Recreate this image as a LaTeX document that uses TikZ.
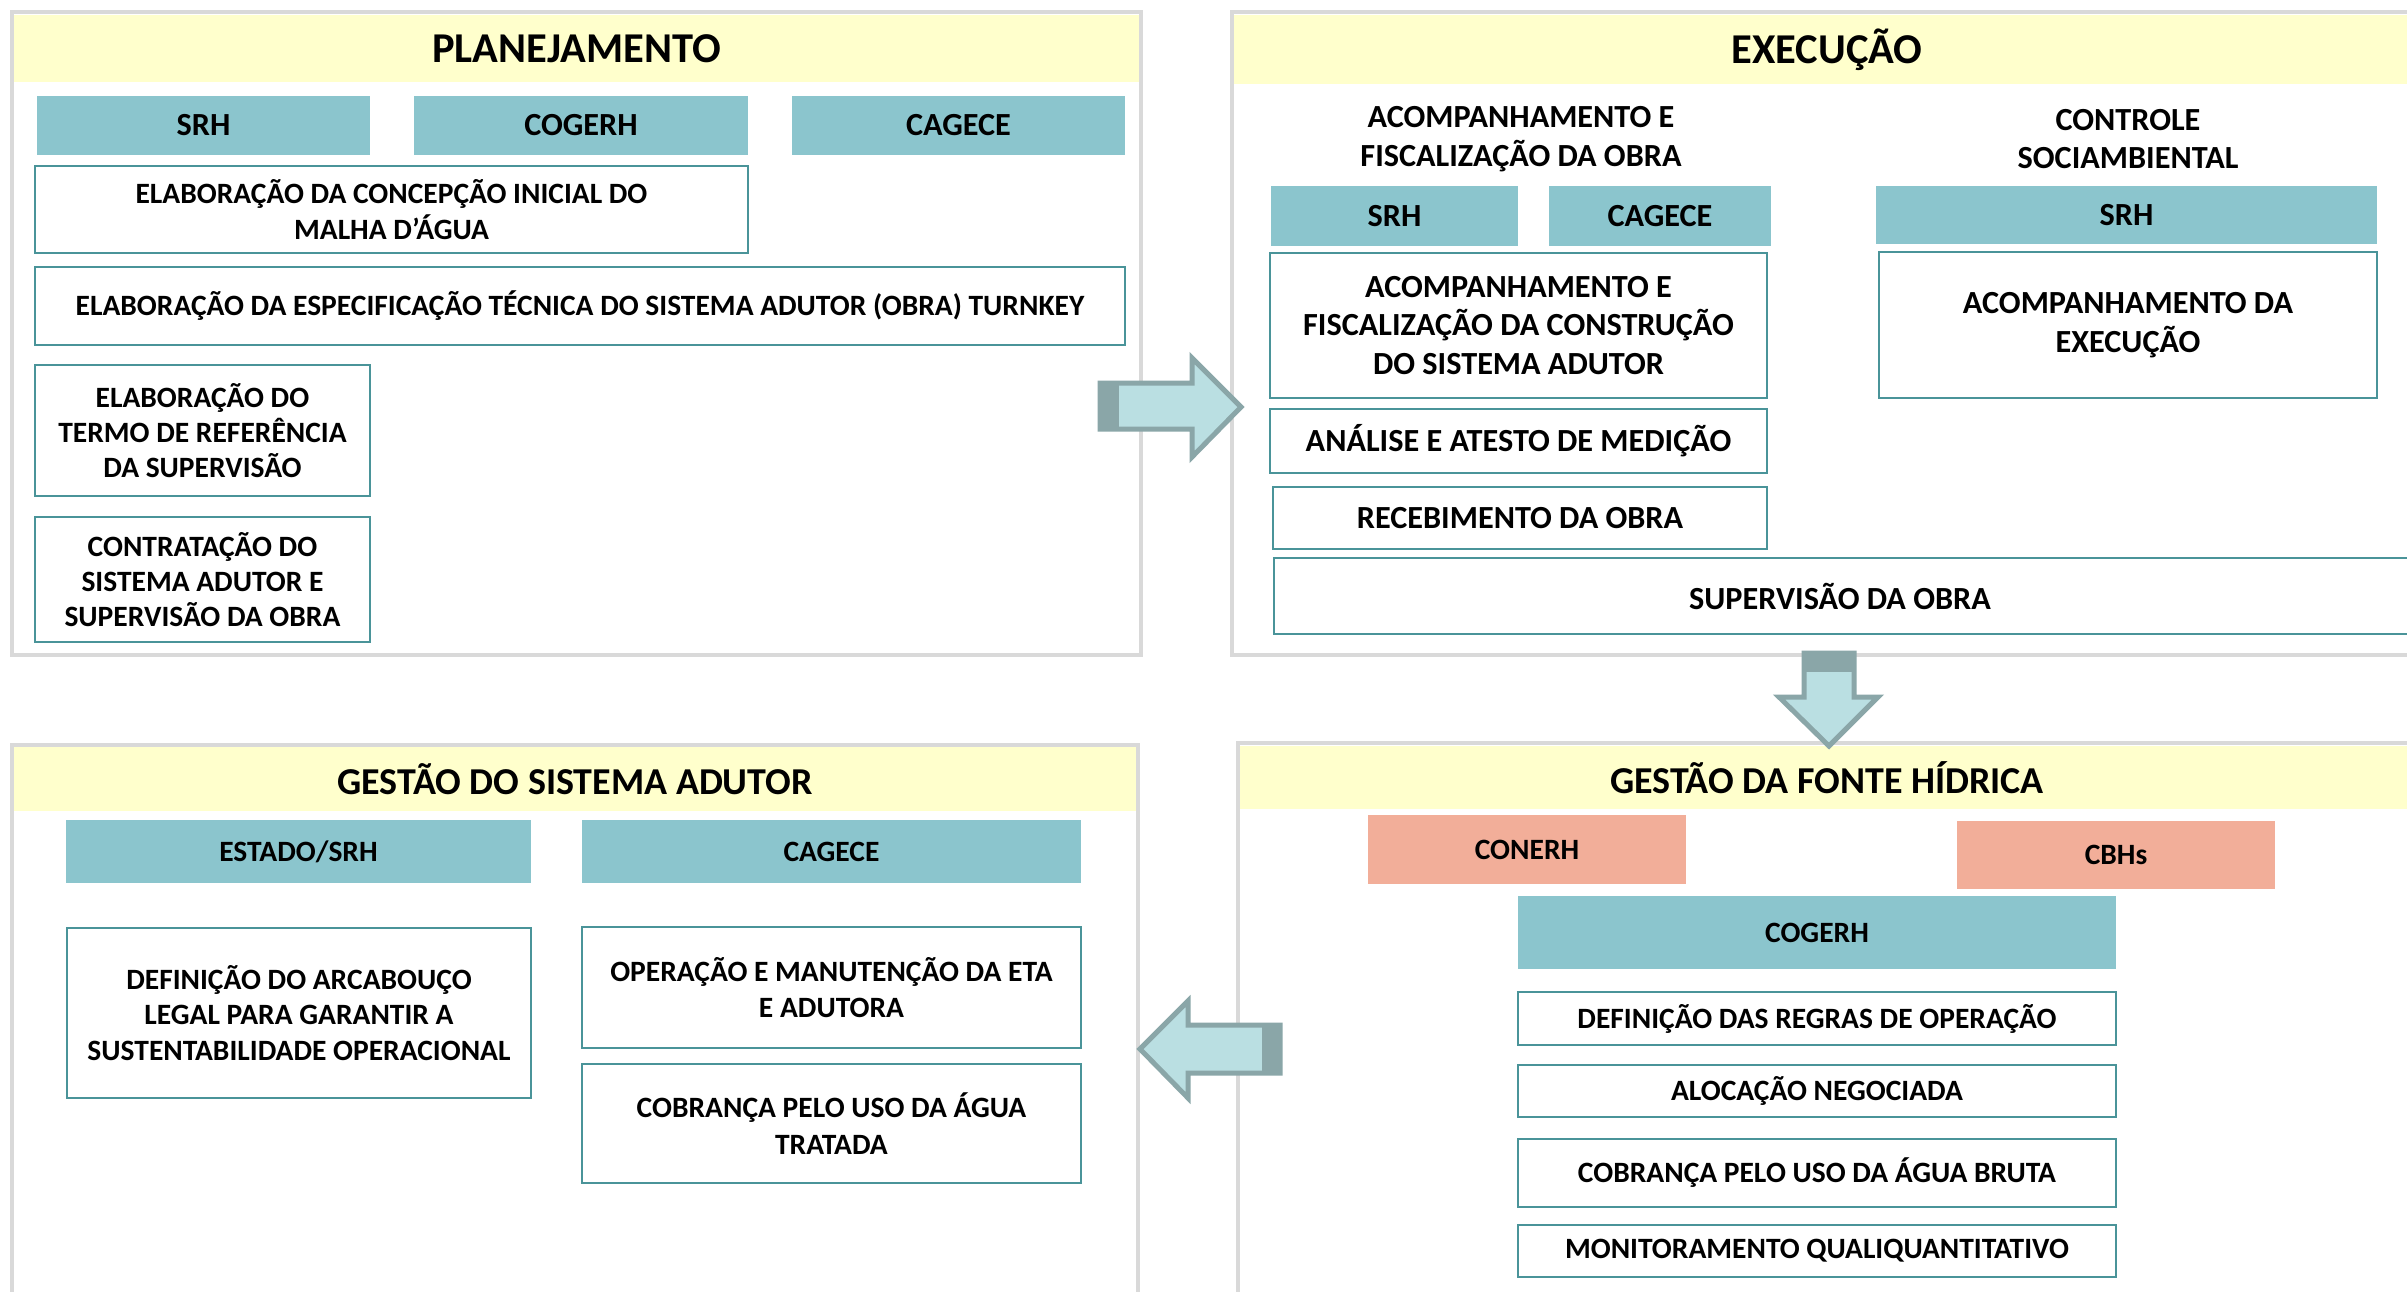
\documentclass[tikz,border=0pt]{standalone}
\usepackage{fontspec}
\setmainfont{Carlito}
\definecolor{tealfill}{HTML}{8BC5CD}
\definecolor{salmonfill}{HTML}{F2AE99}
\definecolor{hdrfill}{HTML}{FFFFCC}
\definecolor{bordteal}{HTML}{4A9499}
\definecolor{pgray}{HTML}{D9D9D9}
\definecolor{arrfill}{HTML}{BADFE2}
\definecolor{arrline}{HTML}{8AA6A8}
\begin{document}
\begin{tikzpicture}[x=0.4pt,y=-0.4pt,
 spanxy/.style n args={4}{at={({(#1+#3)/2},{(#2+#4)/2})}, minimum width={(#3-#1)*0.4pt}, minimum height={(#4-#2)*0.4pt}},
 fsmall/.style={font=\bfseries\fontsize{11.8}{14.1}\selectfont},
 fmid/.style={font=\bfseries\fontsize{12.9}{15.4}\selectfont},
 base/.style={inner sep=0pt, outer sep=0pt, align=center, fsmall},
 wbox/.style={base, draw=bordteal, line width=0.9pt, fill=white},
 tbox/.style={base, fill=tealfill},
 sbox/.style={base, fill=salmonfill},
 panel/.style={draw=pgray, line width=1.6pt, fill=white},
 hdrbox/.style={base, fill=hdrfill},
 ftop/.style={font=\bfseries\fontsize{17}{20}\selectfont},
 fbot/.style={font=\bfseries\fontsize{15.2}{18}\selectfont},
 blockarrow/.style={draw=arrline, line width=2pt, fill=arrfill, line join=miter},
 arrtail/.style={fill=arrline}
]
\useasboundingbox (0,0) rectangle (2407,1292);
\clip (0,0) rectangle (2407,1292);
\fill[white] (0,0) rectangle (2407,1292);

% ---------- panels ----------
\draw[panel] (12,12) rectangle (1141,655);
\draw[panel] (1232,12) rectangle (2440,655);
\draw[panel] (12,745) rectangle (1138,1340);
\draw[panel] (1238,743) rectangle (2440,1340);

% ---------- PLANEJAMENTO ----------
\node[hdrbox, ftop, spanxy={14}{15}{1139}{82}] (hplan) {PLANEJAMENTO};
\node[tbox, fmid, spanxy={37}{96}{370}{155}] (p_srh) {SRH};
\node[tbox, fmid, spanxy={414}{96}{748}{155}] (p_cogerh) {COGERH};
\node[tbox, fmid, spanxy={792}{96}{1125}{155}] (p_cagece) {CAGECE};
\node[wbox, spanxy={35}{166}{748}{253}] (p_concep) {ELABORAÇÃO DA CONCEPÇÃO INICIAL DO\\MALHA D’ÁGUA};
\node[wbox, spanxy={35}{267}{1125}{345}] (p_espec) {ELABORAÇÃO DA ESPECIFICAÇÃO TÉCNICA DO SISTEMA ADUTOR (OBRA) TURNKEY};
\node[wbox, spanxy={35}{365}{370}{496}] (p_termo) {ELABORAÇÃO DO\\TERMO DE REFERÊNCIA\\DA SUPERVISÃO};
\node[wbox, spanxy={35}{517}{370}{642}] (p_contr) {CONTRATAÇÃO DO\\SISTEMA ADUTOR E\\SUPERVISÃO DA OBRA};

% ---------- EXECUÇÃO ----------
\node[hdrbox, ftop, spanxy={1234}{15}{2420}{84}] (hexec) {EXECUÇÃO};
\node[base, fmid] (e_lbl1) at (1521,139) {ACOMPANHAMENTO E\\FISCALIZAÇÃO DA OBRA};
\node[base, fmid] (e_lbl2) at (2128,139) {CONTROLE\\SOCIAMBIENTAL};
\node[tbox, fmid, spanxy={1271}{186}{1518}{246}] (e_srh) {SRH};
\node[tbox, fmid, spanxy={1549}{186}{1771}{246}] (e_cagece) {CAGECE};
\node[tbox, fmid, spanxy={1876}{186}{2377}{244}] (e_srh2) {SRH};
\node[wbox, fmid, spanxy={1270}{253}{1767}{398}] (e_acomp) {ACOMPANHAMENTO E\\FISCALIZAÇÃO DA CONSTRUÇÃO\\DO SISTEMA ADUTOR};
\node[wbox, fmid, spanxy={1879}{252}{2377}{398}] (e_exec) {ACOMPANHAMENTO DA\\EXECUÇÃO};
\node[wbox, fmid, spanxy={1270}{409}{1767}{473}] (e_anal) {ANÁLISE E ATESTO DE MEDIÇÃO};
\node[wbox, fmid, spanxy={1273}{487}{1767}{549}] (e_receb) {RECEBIMENTO DA OBRA};
\node[wbox, spanxy={1274}{558}{2440}{634}] (e_superv) {};
\node[base, fmid] (e_supervt) at (1840,596) {SUPERVISÃO DA OBRA};

% ---------- GESTÃO DO SISTEMA ADUTOR ----------
\node[hdrbox, fbot, spanxy={14}{747}{1136}{811}] (hgsa) {GESTÃO DO SISTEMA ADUTOR};
\node[tbox, spanxy={66}{820}{531}{883}] (g_estado) {ESTADO/SRH};
\node[tbox, spanxy={582}{820}{1081}{883}] (g_cagece) {CAGECE};
\node[wbox, spanxy={67}{928}{531}{1098}] (g_def) {DEFINIÇÃO DO ARCABOUÇO\\LEGAL PARA GARANTIR A\\SUSTENTABILIDADE OPERACIONAL};
\node[wbox, spanxy={582}{927}{1081}{1048}] (g_oper) {OPERAÇÃO E MANUTENÇÃO DA ETA\\E ADUTORA};
\node[wbox, font=\bfseries\fontsize{11.8}{15}\selectfont, spanxy={582}{1064}{1081}{1183}] (g_cobr) {COBRANÇA PELO USO DA ÁGUA\\TRATADA};

% ---------- GESTÃO DA FONTE HÍDRICA ----------
\node[hdrbox, fbot, spanxy={1240}{746}{2414}{809}] (hgfh) {GESTÃO DA FONTE HÍDRICA};
\node[sbox, spanxy={1368}{815}{1686}{884}] (f_conerh) {CONERH};
\node[sbox, spanxy={1957}{821}{2275}{889}] (f_cbhs) {CBHs};
\node[tbox, spanxy={1518}{896}{2116}{969}] (f_cogerh) {COGERH};
\node[wbox, spanxy={1518}{992}{2116}{1045}] (f_regras) {DEFINIÇÃO DAS REGRAS DE OPERAÇÃO};
\node[wbox, spanxy={1518}{1065}{2116}{1117}] (f_aloc) {ALOCAÇÃO NEGOCIADA};
\node[wbox, spanxy={1518}{1139}{2116}{1207}] (f_cobr) {COBRANÇA PELO USO DA ÁGUA BRUTA};
\node[wbox, spanxy={1518}{1225}{2116}{1277}] (f_monit) {MONITORAMENTO QUALIQUANTITATIVO};

% ---------- block arrows ----------
\draw[blockarrow] (1100,383) -- (1192,383) -- (1192,358) -- (1241,407) -- (1192,457) -- (1192,429) -- (1100,429) -- cycle;
\fill[arrtail] (1099,382) rectangle (1119,430);
\draw[blockarrow] (1804,653) -- (1854,653) -- (1854,697) -- (1878,697) -- (1829,746) -- (1779,697) -- (1804,697) -- cycle;
\fill[arrtail] (1803,652) rectangle (1855,672);
\draw[blockarrow] (1280,1025) -- (1188,1025) -- (1188,1001) -- (1140,1049) -- (1188,1098) -- (1188,1073) -- (1280,1073) -- cycle;
\fill[arrtail] (1262,1024) rectangle (1281,1074);
\end{tikzpicture}
\end{document}
